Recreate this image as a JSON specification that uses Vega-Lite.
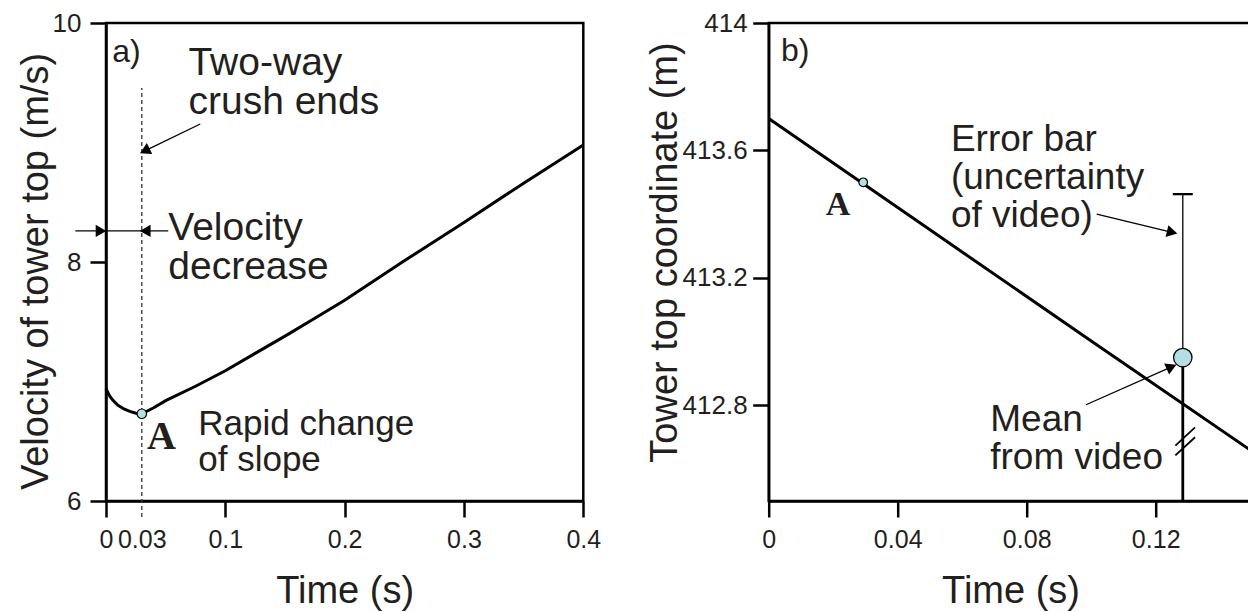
{
  "$schema": "https://vega.github.io/schema/vega-lite/v6.json",
  "background": "white",
  "padding": {"left": 16, "top": 8, "right": 0, "bottom": 0},
  "bounds": "flush",
  "spacing": 184.7,
  "config": {
    "view": {"stroke": "#000", "strokeWidth": 2.5},
    "axis": {
      "grid": false, "domainColor": "#000", "domainWidth": 2.5, "tickColor": "#000", "tickWidth": 2.5, "tickSize": 16,
      "labelFont": "Liberation Sans", "labelFontSize": 26, "labelColor": "#231f20", "labelFlush": false, "labelOverlap": false,
      "titleFont": "Liberation Sans", "titleFontSize": 38, "titleFontWeight": "normal", "titleColor": "#231f20", "format": ".6~g"
    },
    "axisX": {"labelPadding": 10, "labelFontSize": 25, "titleBaseline": "alphabetic", "titleY": 101},
    "axisY": {"titleAngle": -90, "titleBaseline": "alphabetic", "titleAlign": "center"},
    "text": {"font": "Liberation Sans", "color": "#231f20"}
  },
  "datasets": {
    "velocity": [
      {"t": 0, "v": 6.94}, {"t": 0.003, "v": 6.88}, {"t": 0.006, "v": 6.84}, {"t": 0.01, "v": 6.8},
      {"t": 0.015, "v": 6.77}, {"t": 0.02, "v": 6.75}, {"t": 0.025, "v": 6.735}, {"t": 0.03, "v": 6.73},
      {"t": 0.04, "v": 6.78}, {"t": 0.05, "v": 6.84}, {"t": 0.075, "v": 6.96}, {"t": 0.1, "v": 7.09},
      {"t": 0.125, "v": 7.235}, {"t": 0.15, "v": 7.38}, {"t": 0.175, "v": 7.53}, {"t": 0.2, "v": 7.68},
      {"t": 0.25, "v": 8.01}, {"t": 0.3, "v": 8.33}, {"t": 0.35, "v": 8.66}, {"t": 0.4, "v": 8.98}
    ],
    "leftSegments": [
      {"kind": "guide", "t": 0.03, "v": 5.866, "t2": 0.03, "v2": 9.456},
      {"kind": "arrow", "t": 0.079, "v": 9.155, "t2": 0.0325, "v2": 8.93},
      {"kind": "arrow", "t": -0.0257, "v": 8.26, "t2": 0.0522, "v2": 8.26}
    ],
    "leftHeads": [
      {"name": "crush", "t": 0.0325, "v": 8.93},
      {"name": "right", "t": -0.0042, "v": 8.26},
      {"name": "left", "t": 0.0329, "v": 8.26}
    ],
    "leftPoints": [{"label": "A", "t": 0.03, "v": 6.73}],
    "leftNotes": [
      {"kind": "panel", "text": "a)", "t": 0.0053, "v": 9.674},
      {"kind": "note", "text": "Two-way\ncrush ends", "t": 0.0691, "v": 9.565},
      {"kind": "note", "text": "Velocity\ndecrease", "t": 0.0522, "v": 8.184},
      {"kind": "small", "text": "Rapid change\nof slope", "t": 0.0773, "v": 6.552},
      {"kind": "point", "text": "A", "t": 0.0344, "v": 6.435}
    ],
    "position": [
      {"t": 0, "v": 413.7}, {"t": 0.05, "v": 413.351}, {"t": 0.1, "v": 413.002}, {"t": 0.15, "v": 412.655}
    ],
    "rightSegments": [
      {"kind": "thin", "t": 0.1284, "v": 412.95, "t2": 0.1284, "v2": 413.463},
      {"kind": "cap", "t": 0.1253, "v": 413.463, "t2": 0.1315, "v2": 413.463},
      {"kind": "thick", "t": 0.1284, "v": 412.5, "t2": 0.1284, "v2": 412.95},
      {"kind": "break", "t": 0.1261, "v": 412.674, "t2": 0.1322, "v2": 412.731},
      {"kind": "break", "t": 0.1261, "v": 412.643, "t2": 0.1322, "v2": 412.7},
      {"kind": "arrow", "t": 0.1017, "v": 413.4, "t2": 0.1251, "v2": 413.343},
      {"kind": "arrow", "t": 0.0984, "v": 412.802, "t2": 0.1249, "v2": 412.921}
    ],
    "rightHeads": [
      {"name": "error", "t": 0.1251, "v": 413.343},
      {"name": "mean", "t": 0.1249, "v": 412.921}
    ],
    "rightPoints": [
      {"label": "A", "t": 0.0293, "v": 413.5},
      {"label": "Mean", "t": 0.1284, "v": 412.95}
    ],
    "rightNotes": [
      {"kind": "panel", "text": "b)", "t": 0.0038, "v": 413.881},
      {"kind": "note", "text": "Error bar\n(uncertainty\nof video)", "t": 0.0565, "v": 413.599},
      {"kind": "note", "text": "Mean\nfrom video", "t": 0.0687, "v": 412.72},
      {"kind": "point", "text": "A", "t": 0.0177, "v": 413.396}
    ]
  },
  "hconcat": [
    {
      "width": 477.3,
      "height": 478,
      "encoding": {
        "x": {"field": "t", "type": "quantitative",
          "scale": {"domain": [0, 0.4], "nice": false, "zero": false},
          "axis": {"title": "Time (s)", "values": [0, 0.03, 0.1, 0.2, 0.3, 0.4],
            "tickOpacity": {"condition": {"test": "datum.value === 0.03", "value": 0}, "value": 1}}},
        "y": {"field": "v", "type": "quantitative",
          "scale": {"domain": [6, 10], "nice": false, "zero": false},
          "axis": {"title": "Velocity of tower top (m/s)", "values": [6, 8, 10], "labelPadding": 9,
            "titleX": -58.7, "titleY": 248, "titleFontSize": 38}}
      },
      "layer": [
        {"data": {"name": "leftSegments"}, "transform": [{"filter": "datum.kind === 'guide'"}],
          "mark": {"type": "rule", "color": "#333", "strokeWidth": 1.3, "strokeDash": [4, 3]},
          "encoding": {"x2": {"field": "t2"}, "y2": {"field": "v2"}}},
        {"data": {"name": "leftSegments"}, "transform": [{"filter": "datum.kind === 'arrow'"}],
          "mark": {"type": "rule", "color": "#000", "strokeWidth": 1.3},
          "encoding": {"x2": {"field": "t2"}, "y2": {"field": "v2"}}},
        {"data": {"name": "leftHeads"}, "transform": [{"filter": "datum.name === 'crush'"}],
          "mark": {"type": "point", "shape": "triangle-up", "angle": 244, "filled": true, "color": "#000", "size": 150, "opacity": 1}},
        {"data": {"name": "leftHeads"}, "transform": [{"filter": "datum.name === 'right'"}],
          "mark": {"type": "point", "shape": "triangle-up", "angle": 90, "filled": true, "color": "#000", "size": 150, "opacity": 1}},
        {"data": {"name": "leftHeads"}, "transform": [{"filter": "datum.name === 'left'"}],
          "mark": {"type": "point", "shape": "triangle-up", "angle": 270, "filled": true, "color": "#000", "size": 150, "opacity": 1}},
        {"data": {"name": "velocity"},
          "mark": {"type": "line", "color": "#000", "strokeWidth": 3}},
        {"data": {"name": "leftPoints"},
          "mark": {"type": "point", "shape": "circle", "filled": true, "fill": "#b5dfe0", "stroke": "#000", "strokeWidth": 1.2, "size": 90, "opacity": 1}},
        {"data": {"name": "leftNotes"}, "transform": [{"filter": "datum.kind === 'panel'"}],
          "mark": {"type": "text", "align": "left", "baseline": "alphabetic", "fontSize": 32},
          "encoding": {"text": {"field": "text"}}},
        {"data": {"name": "leftNotes"}, "transform": [{"filter": "datum.kind === 'note'"}],
          "mark": {"type": "text", "align": "left", "baseline": "alphabetic", "fontSize": 39, "lineHeight": 39, "lineBreak": "\n"},
          "encoding": {"text": {"field": "text"}}},
        {"data": {"name": "leftNotes"}, "transform": [{"filter": "datum.kind === 'small'"}],
          "mark": {"type": "text", "align": "left", "baseline": "alphabetic", "fontSize": 35, "lineHeight": 36, "lineBreak": "\n"},
          "encoding": {"text": {"field": "text"}}},
        {"data": {"name": "leftNotes"}, "transform": [{"filter": "datum.kind === 'point'"}],
          "mark": {"type": "text", "align": "left", "baseline": "alphabetic", "fontSize": 40, "font": "Liberation Serif", "fontWeight": "bold"},
          "encoding": {"text": {"field": "text"}}}
      ]
    },
    {
      "width": 483.75,
      "height": 478,
      "encoding": {
        "x": {"field": "t", "type": "quantitative",
          "scale": {"domain": [0, 0.15], "nice": false, "zero": false},
          "axis": {"title": "Time (s)", "values": [0, 0.04, 0.08, 0.12]}},
        "y": {"field": "v", "type": "quantitative",
          "scale": {"domain": [412.5, 414], "nice": false, "zero": false},
          "axis": {"title": "Tower top coordinate (m)", "values": [412.8, 413.2, 413.6, 414], "labelPadding": 5.5,
            "titleX": -92.7, "titleY": 229}}
      },
      "layer": [
        {"data": {"name": "position"},
          "mark": {"type": "line", "color": "#000", "strokeWidth": 3}},
        {"data": {"name": "rightSegments"}, "transform": [{"filter": "datum.kind === 'thin' || datum.kind === 'arrow'"}],
          "mark": {"type": "rule", "color": "#000", "strokeWidth": 1.3},
          "encoding": {"x2": {"field": "t2"}, "y2": {"field": "v2"}}},
        {"data": {"name": "rightSegments"}, "transform": [{"filter": "datum.kind === 'cap'"}],
          "mark": {"type": "rule", "color": "#000", "strokeWidth": 2.3},
          "encoding": {"x2": {"field": "t2"}, "y2": {"field": "v2"}}},
        {"data": {"name": "rightSegments"}, "transform": [{"filter": "datum.kind === 'thick'"}],
          "mark": {"type": "rule", "color": "#000", "strokeWidth": 2.8},
          "encoding": {"x2": {"field": "t2"}, "y2": {"field": "v2"}}},
        {"data": {"name": "rightSegments"}, "transform": [{"filter": "datum.kind === 'break'"}],
          "mark": {"type": "rule", "color": "#000", "strokeWidth": 1.8},
          "encoding": {"x2": {"field": "t2"}, "y2": {"field": "v2"}}},
        {"data": {"name": "rightHeads"}, "transform": [{"filter": "datum.name === 'error'"}],
          "mark": {"type": "point", "shape": "triangle-up", "angle": 103.5, "filled": true, "color": "#000", "size": 150, "opacity": 1}},
        {"data": {"name": "rightHeads"}, "transform": [{"filter": "datum.name === 'mean'"}],
          "mark": {"type": "point", "shape": "triangle-up", "angle": 66, "filled": true, "color": "#000", "size": 150, "opacity": 1}},
        {"data": {"name": "rightPoints"}, "transform": [{"filter": "datum.label === 'A'"}],
          "mark": {"type": "point", "shape": "circle", "filled": true, "fill": "#b5dfe0", "stroke": "#000", "strokeWidth": 1.2, "size": 75, "opacity": 1}},
        {"data": {"name": "rightPoints"}, "transform": [{"filter": "datum.label === 'Mean'"}],
          "mark": {"type": "point", "shape": "circle", "filled": true, "fill": "#b5dfe0", "stroke": "#000", "strokeWidth": 1.3, "size": 340, "opacity": 1}},
        {"data": {"name": "rightNotes"}, "transform": [{"filter": "datum.kind === 'panel'"}],
          "mark": {"type": "text", "align": "left", "baseline": "alphabetic", "fontSize": 32},
          "encoding": {"text": {"field": "text"}}},
        {"data": {"name": "rightNotes"}, "transform": [{"filter": "datum.kind === 'note'"}],
          "mark": {"type": "text", "align": "left", "baseline": "alphabetic", "fontSize": 37, "lineHeight": 38, "lineBreak": "\n"},
          "encoding": {"text": {"field": "text"}}},
        {"data": {"name": "rightNotes"}, "transform": [{"filter": "datum.kind === 'point'"}],
          "mark": {"type": "text", "align": "left", "baseline": "alphabetic", "fontSize": 34, "font": "Liberation Serif", "fontWeight": "bold"},
          "encoding": {"text": {"field": "text"}}}
      ]
    }
  ]
}
